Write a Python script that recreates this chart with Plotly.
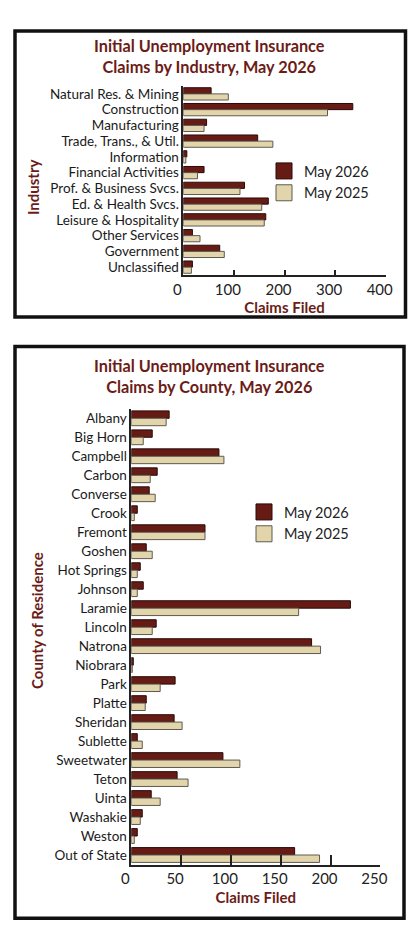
import plotly.graph_objs as graph

# ---- industry chart data ----
industries = [
    "Natural Res. & Mining", "Construction", "Manufacturing",
    "Trade, Trans., & Util.", "Information", "Financial Activities",
    "Prof. & Business Svcs.", "Ed. & Health Svcs.", "Leisure & Hospitality",
    "Other Services", "Government", "Unclassified"
]
ind_2026 = [55, 335, 46, 147, 7, 41, 121, 168, 163, 18, 72, 18]
ind_2025 = [89, 285, 41, 177, 5, 28, 112, 155, 160, 33, 81, 16]
ind_ticks = [0, 100, 200, 300, 400]

# ---- county chart data ----
counties = [
    "Albany", "Big Horn", "Campbell", "Carbon", "Converse", "Crook",
    "Fremont", "Goshen", "Hot Springs", "Johnson", "Laramie", "Lincoln",
    "Natrona", "Niobrara", "Park", "Platte", "Sheridan", "Sublette",
    "Sweetwater", "Teton", "Uinta", "Washakie", "Weston", "Out of State"
]
cty_2026 = [38, 21, 88, 26, 18, 6, 74, 15, 9, 12, 220, 25,
            181, 2, 44, 15, 43, 6, 92, 46, 20, 11, 6, 164]
cty_2025 = [35, 12, 93, 19, 24, 3, 74, 21, 6, 6, 168, 21,
            190, 1, 29, 14, 51, 11, 109, 57, 29, 9, 3, 189]
cty_ticks = [0, 50, 100, 150, 200, 250]

MAROON = "#671b15"
BEIGE = "#e2d5ab"
TITLE = "#6b1c17"
FONT = "Lato, 'Open Sans', sans-serif"
W, H = 420, 951


def px_x(p):
    return p / W


def px_y(p):
    return 1 - p / H


def bars(names, v26, v25, xa, ya, leg):
    traces = []
    for name, vals, fill, edge in [("May 2026", v26, MAROON, "#2a0a08"),
                                   ("May 2025", v25, BEIGE, "#5e5a50")]:
        traces.append(graph.Bar(y=names, x=vals, orientation="h", name=name,
                                marker=dict(color=fill, line=dict(color=edge, width=1)),
                                xaxis=xa, yaxis=ya, showlegend=False))
        # legend-only entry so the swatch can be drawn larger than a bar swatch
        traces.append(graph.Scatter(x=[None], y=[None], mode="markers", name=name,
                                    marker=dict(symbol="square", size=16, color=fill,
                                                line=dict(color=edge, width=1)),
                                    xaxis=xa, yaxis=ya, legend=leg))
    return traces


data = bars(industries, ind_2026, ind_2025, "x", "y", "legend") + \
    bars(counties, cty_2026, cty_2025, "x2", "y2", "legend2")

xcommon = dict(showgrid=False, zeroline=False, showline=True, linecolor="#222",
               linewidth=1.5, ticks="inside", tickcolor="#222", tickwidth=1.5,
               tickfont=dict(family=FONT, size=15, color="#222"),
               ticklabelshift=-6, automargin=False,
               title_font=dict(family=FONT, size=15, color=TITLE))
ycommon = dict(showgrid=False, zeroline=False, showline=True, linecolor="#222",
               linewidth=1.5, ticks="", autorange="reversed", tickmode="array",
               automargin=False,
               tickfont=dict(family=FONT, size=13.5, color="#1a1a1a"))
legcommon = dict(xanchor="left", yanchor="top", traceorder="normal",
                 itemsizing="trace", bgcolor="rgba(0,0,0,0)",
                 font=dict(family=FONT, size=14.5, color="#222"))


def note(text, x, y, size, angle=0):
    return dict(text=text, x=px_x(x), y=px_y(y), xref="paper", yref="paper",
                xanchor="center", yanchor="middle", showarrow=False,
                textangle=angle, font=dict(family=FONT, size=size, color=TITLE))


layout = graph.Layout(
    width=W, height=H,
    margin=dict(l=0, r=0, t=0, b=0, autoexpand=False),
    paper_bgcolor="white", plot_bgcolor="white",
    barmode="group", bargap=0.22, bargroupgap=0,
    xaxis=dict(xcommon, domain=[px_x(183.3), px_x(385.7)], range=[0, 400],
               tickvals=ind_ticks, ticklen=5, anchor="y",
               title=dict(text="<b>Claims Filed</b>", standoff=3)),
    yaxis=dict(ycommon, domain=[px_y(275), px_y(86)], anchor="x",
               tickvals=industries, ticktext=industries),
    xaxis2=dict(xcommon, domain=[px_x(131.3), px_x(380.3)], range=[0, 250],
                tickvals=cty_ticks, ticklen=10, anchor="y2",
                title=dict(text="<b>Claims Filed</b>", standoff=6)),
    yaxis2=dict(ycommon, domain=[px_y(864.5), px_y(408.8)], anchor="x2",
                tickvals=counties, ticktext=counties),
    legend=dict(legcommon, x=px_x(264), y=px_y(155)),
    legend2=dict(legcommon, x=px_x(244), y=px_y(496)),
    annotations=[
        note("<b>Initial Unemployment Insurance<br>Claims by Industry, May 2026</b>",
             209, 56, 16.3),
        note("<b>Initial Unemployment Insurance<br>Claims by County, May 2026</b>",
             209, 376, 16.3),
        note("<b>Industry</b>", 33, 187, 15, -90),
        note("<b>County of Residence</b>", 37, 621, 15, -90),
    ],
    shapes=[
        dict(type="rect", xref="paper", yref="paper",
             x0=px_x(15), x1=px_x(405.5), y0=px_y(317), y1=px_y(31),
             line=dict(color="#111", width=3.5)),
        dict(type="rect", xref="paper", yref="paper",
             x0=px_x(15), x1=px_x(404), y0=px_y(918.3), y1=px_y(346.5),
             line=dict(color="#111", width=3.5)),
    ],
)

fig = graph.Figure(data=data, layout=layout)
fig.write_html("out.html", config={"displayModeBar": False},
               post_script="document.body.style.margin='0px';")
